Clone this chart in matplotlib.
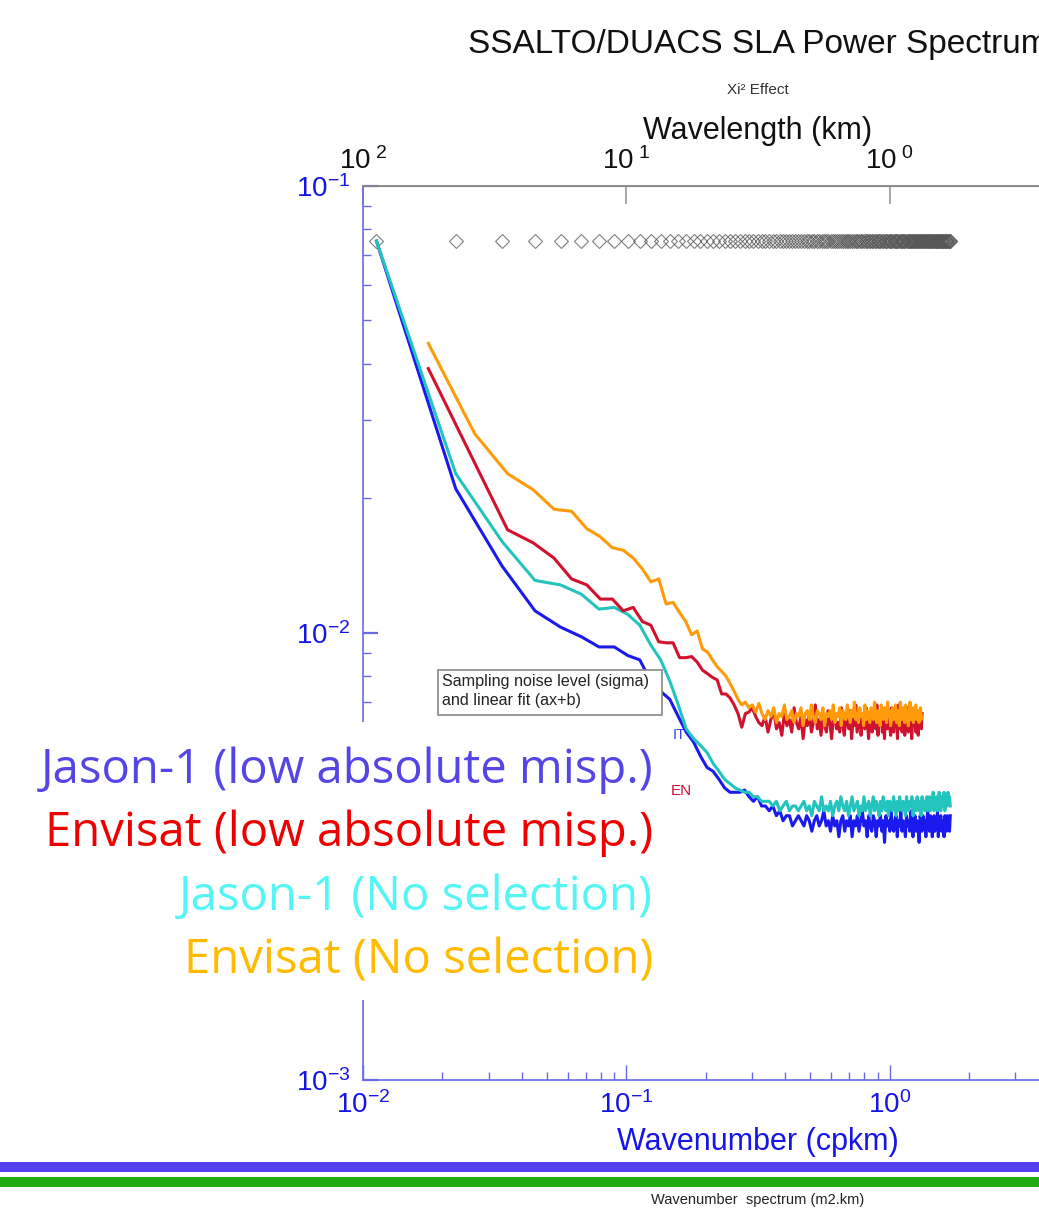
import numpy as np
import matplotlib
matplotlib.use("Agg")
import matplotlib.pyplot as plt
from matplotlib.patches import Rectangle

# wavenumber step of each mission (cpkm) and index of first plotted harmonic
dk_jason = 0.01125
dk_envisat = 0.00885
k0_jason = 1
k0_envisat = 2

# power spectra, in 1e-3 m2.km
jason_low = [
    75.2, 21.0, 14.1, 11.2, 10.3, 9.8, 9.3, 9.3, 8.9, 8.7,
    7.8, 7.4, 7.1, 6.5, 6.0, 5.7, 5.3, 5.0, 4.9, 4.7,
    4.5, 4.4, 4.4, 4.4, 4.45, 4.3, 4.2, 4.3, 4.1, 4.1,
    4.0, 4.1, 3.9, 4.0, 3.8, 3.9, 3.9, 3.7, 3.8, 3.9,
    3.8, 3.7, 3.9, 3.8, 3.6, 3.8, 3.9, 3.7, 3.8, 4.0,
    3.7, 3.8, 3.6, 3.9, 3.7, 3.8, 3.5, 3.8, 3.9, 3.6,
    3.8, 3.7, 3.9, 3.5, 3.8, 3.7, 3.9, 3.6, 3.8, 4.0,
    3.7, 3.8, 3.5, 3.9, 3.7, 3.6, 3.9, 3.8, 3.5, 3.8,
    3.7, 3.9, 3.6, 3.8, 3.4, 3.9, 3.7, 3.8, 3.6, 4.0,
    3.7, 3.6, 3.8, 3.9, 3.5, 3.8, 3.7, 4.0, 3.6, 3.8,
    3.7, 3.5, 3.9, 3.7, 3.8, 3.6, 4.0, 3.7, 3.5, 3.8,
    3.9, 3.6, 3.8, 3.7, 3.4, 3.9, 3.8, 3.6, 3.9, 3.7,
    3.8, 3.5, 3.8, 4.0, 3.7, 3.6, 3.9, 3.8, 3.5, 3.7,
    3.9, 3.6, 3.8, 3.7, 4.0, 3.5, 3.8, 3.7, 3.9, 3.6,
    3.8, 3.7, 3.5, 3.9, 3.8, 3.6, 3.9, 3.7, 3.8, 3.6, 3.9,
]
jason_all = [
    75.2, 22.7, 16.0, 13.1, 12.8, 12.2, 11.3, 11.4, 11.0, 10.4,
    9.4, 8.7, 7.8, 6.9, 6.1, 5.8, 5.6, 5.4, 5.1, 4.9,
    4.7, 4.6, 4.5, 4.45, 4.4, 4.4, 4.3, 4.3, 4.2, 4.2,
    4.2, 4.1, 4.2, 4.0, 4.1, 4.2, 4.0, 4.1, 4.1, 4.0,
    4.1, 4.2, 4.0, 4.1, 3.9, 4.2, 4.1, 4.0, 4.3, 4.0,
    4.1, 4.0, 4.2, 3.9, 4.1, 4.2, 4.0, 4.3, 4.1, 4.0,
    4.2, 3.9, 4.1, 4.3, 4.0, 4.1, 4.2, 3.9, 4.1, 4.0,
    4.3, 4.0, 4.1, 4.2, 3.9, 4.1, 4.3, 4.0, 4.2, 4.1,
    3.9, 4.2, 4.0, 4.3, 4.1, 4.0, 4.2, 3.9, 4.2, 4.1,
    4.0, 4.3, 4.1, 3.9, 4.2, 4.0, 4.3, 4.1, 4.0, 4.2,
    4.1, 3.9, 4.3, 4.1, 4.0, 4.2, 4.1, 4.3, 3.9, 4.1,
    4.2, 4.0, 4.3, 4.1, 4.0, 4.2, 3.9, 4.3, 4.1, 4.2,
    4.0, 4.2, 4.3, 4.0, 4.1, 4.3, 4.0, 4.2, 4.1, 4.4,
    4.0, 4.2, 4.1, 4.3, 4.0, 4.2, 4.4, 4.1, 4.0, 4.3,
    4.1, 4.2, 4.4, 4.0, 4.2, 4.3, 4.1, 4.4, 4.2, 4.3, 4.1,
]
envisat_low = [
    39.0, 24.0, 17.0, 15.9, 14.7, 13.2, 12.8, 11.9, 11.9, 11.2,
    11.4, 10.6, 10.4, 9.55, 9.5, 9.5, 8.8, 8.8, 8.85, 8.6,
    8.25, 8.1, 7.95, 7.85, 7.3, 7.3, 7.15, 6.9, 6.6, 6.15,
    6.6, 6.65, 6.8, 6.5, 6.3,
    6.2, 6.5, 6.0, 6.4, 6.7, 6.1, 6.3, 5.9, 6.6, 6.2,
    6.4, 6.0, 6.8, 6.3, 6.1, 6.5, 5.8, 6.4, 6.2, 6.6,
    6.0, 6.3, 6.9, 6.1, 6.4, 5.9, 6.5, 6.2, 6.0, 6.7,
    6.3, 5.8, 6.4, 6.6, 6.1, 6.3, 6.0, 6.8, 6.2, 5.9,
    6.5, 6.3, 6.1, 6.7, 5.8, 6.4, 6.2, 6.9, 6.0, 6.3,
    6.6, 5.9, 6.4, 6.2, 6.1, 6.8, 6.3, 5.8, 6.5, 6.2,
    6.0, 6.7, 6.3, 6.1, 6.9, 5.9, 6.4, 6.2, 6.6, 6.0,
    6.3, 5.8, 6.7, 6.4, 6.1, 6.5, 6.2, 5.9, 6.8, 6.3,
    6.0, 6.6, 6.2, 6.4, 5.8, 6.9, 6.3, 6.1, 6.5, 6.0,
    6.7, 6.2, 5.9, 6.4, 6.3, 6.8, 6.0, 6.5, 6.1, 6.6,
    5.8, 6.3, 6.7, 6.2, 6.4, 6.0, 6.6, 6.3, 5.9, 6.5,
    6.2, 6.4, 6.1, 6.6,
]
envisat_all = [
    44.4, 27.9, 22.7, 20.9, 18.9, 18.7, 17.1, 16.4, 15.5, 15.3,
    14.7, 13.9, 13.0, 13.2, 11.6, 11.7, 11.1, 10.6, 9.9, 10.1,
    9.2, 9.05, 8.7, 8.4, 8.2, 8.0, 7.7, 7.4, 7.1, 6.9,
    7.0, 6.8, 6.9, 6.65, 6.95,
    6.6, 6.4, 6.7, 6.5, 6.8, 6.3, 6.6, 6.5, 6.9, 6.4,
    6.5, 6.7, 6.3, 6.6, 6.5, 6.8, 6.2, 6.6, 6.7, 6.4,
    6.9, 6.5, 6.3, 6.7, 6.6, 6.4, 6.8, 6.2, 6.6, 6.5,
    6.7, 6.4, 6.9, 6.3, 6.6, 6.5, 6.8, 6.2, 6.7, 6.5,
    6.4, 6.9, 6.6, 6.3, 6.7, 6.5, 7.0, 6.4, 6.6, 6.3,
    6.8, 6.5, 6.6, 6.2, 6.9, 6.4, 6.7, 6.5, 6.3, 6.8,
    6.6, 6.4, 7.0, 6.5, 6.3, 6.7, 6.6, 6.2, 6.9, 6.5,
    6.4, 6.8, 6.6, 6.3, 7.0, 6.5, 6.7, 6.2, 6.6, 6.8,
    6.4, 6.5, 6.9, 6.3, 6.7, 6.6, 6.2, 7.0, 6.5, 6.4,
    6.8, 6.6, 6.3, 6.9, 6.5, 6.7, 6.2, 6.6, 7.0, 6.4,
    6.5, 6.8, 6.3, 6.7, 6.6, 6.9, 6.4, 6.5, 6.7, 6.3,
    6.6, 6.8, 6.4, 6.5,
]

# level of the Xi2 diamonds (m2.km)
xi2_level = 0.0752

legend_labels = [
    "Jason-1 (low absolute misp.)",
    "Envisat (low absolute misp.)",
    "Jason-1 (No selection)",
    "Envisat (No selection)",
]
legend_colors = ["#5545e5", "#ee0000", "#55f5f5", "#ffbb00"]

W, H = 1039, 1212


def fx(px):
    return px / W


def fy(py):
    return 1 - py / H


def inv(x):
    x = np.asarray(x, dtype=float)
    with np.errstate(divide="ignore"):
        return 1.0 / x


plt.rcParams["font.family"] = "Liberation Sans"
plt.rcParams["mathtext.fontset"] = "custom"
plt.rcParams["mathtext.rm"] = "Liberation Sans"
plt.rcParams["mathtext.it"] = "Liberation Sans:italic"
plt.rcParams["mathtext.bf"] = "Liberation Sans:bold"

fig = plt.figure(figsize=(W / 100, H / 100), dpi=100)
# the right part of the plot runs past the picture edge
ax = fig.add_axes([fx(363), fy(1080), fx(1153) - fx(363), fy(185.7) - fy(1080)])

kj = (np.arange(len(jason_low)) + k0_jason) * dk_jason
ke = (np.arange(len(envisat_low)) + k0_envisat) * dk_envisat

ax.plot(kj, np.full(len(kj), xi2_level), ls="none", marker="D", ms=7,
        mfc="none", mec="#555555", mew=0.8, alpha=0.75)
ax.plot(kj, np.array(jason_low) * 1e-3, color="#1a1aee", lw=2.2)
ax.plot(kj, np.array(jason_all) * 1e-3, color="#22c4bd", lw=2.2)
ax.plot(ke, np.array(envisat_low) * 1e-3, color="#d0122e", lw=2.2)
ax.plot(ke, np.array(envisat_all) * 1e-3, color="#ff9a0a", lw=2.2)

ax.set_xscale("log")
ax.set_yscale("log")
ax.set_xlim(1e-2, 1e1)
ax.set_ylim(1e-3, 1e-1)
# the 10^1 tick sits on the hidden right edge
ax.set_xticks([1e-2, 1e-1, 1e0])

for side in ["left", "bottom"]:
    ax.spines[side].set_color("#6a6ae0")
    ax.spines[side].set_linewidth(1.2)
ax.spines["top"].set_color("#888888")
ax.spines["top"].set_linewidth(1.3)

ax.tick_params(axis="both", which="both", direction="in", top=False, right=False,
               color="#6a6ae0", labelcolor="#1515e8", labelsize=20)
ax.tick_params(axis="y", which="major", length=11, width=1.6, pad=9)
ax.tick_params(axis="y", which="minor", length=5.5, width=1.0)
ax.tick_params(axis="x", which="major", length=11, width=1.0, pad=8)
ax.tick_params(axis="x", which="minor", length=6, width=1.0)

ax.set_xlabel("Wavenumber (cpkm)", fontsize=22, color="#1515e8", labelpad=6)

secax = ax.secondary_xaxis("top", functions=(inv, inv))
secax.set_xticks([100, 10, 1])
secax.set_xticklabels([r"$10^{\ 2}$", r"$10^{\ 1}$", r"$10^{\ 0}$"])
secax.minorticks_off()
secax.tick_params(axis="x", which="major", direction="in", length=13, width=1.2,
                  color="#999999", labelcolor="#111111", labelsize=20, pad=8)
secax.tick_params(axis="x", which="minor", length=0)
secax.spines["top"].set_color("#888888")

ax.text(0.150, 0.00590, "IT", color="#3a3ae8", fontsize=10.5, va="center",
        ha="left", zorder=1)
ax.text(0.148, 0.00433, "EN", color="#d0122e", fontsize=11)

fig.text(fx(758), fy(45), "SSALTO/DUACS SLA Power Spectrum", fontsize=24,
         ha="center", va="center", color="#111111")
fig.text(fx(758), fy(90), "Xi\u00b2 Effect", fontsize=11, ha="center",
         va="center", color="#333333")
fig.text(fx(758), fy(131), "Wavelength (km)", fontsize=22, ha="center",
         va="center", color="#111111")

# noise level note
fig.patches.append(Rectangle((fx(438), fy(715)), fx(662) - fx(438), fy(670) - fy(715),
                             transform=fig.transFigure, facecolor="white",
                             edgecolor="#888888", lw=1.2, zorder=3))
fig.text(fx(442), fy(681), "Sampling noise level (sigma)", fontsize=11.6,
         va="center", color="#222222", zorder=4)
fig.text(fx(442), fy(701), "and linear fit (ax+b)", fontsize=11.6,
         va="center", color="#222222", zorder=4)

# white panel holding the big legend
fig.patches.append(Rectangle((0, fy(1000)), fx(665), fy(722) - fy(1000),
                             transform=fig.transFigure, facecolor="white",
                             edgecolor="none", zorder=5))
for i, (lab, col) in enumerate(zip(legend_labels, legend_colors)):
    fig.text(fx(653), fy(770 + 63.7 * i), lab, fontsize=34, family="Open Sans",
             ha="right", va="center", color=col, zorder=6)

# footer bands
fig.patches.append(Rectangle((0, fy(1172)), 1, fy(1161.5) - fy(1172),
                             transform=fig.transFigure, facecolor="#5540ee",
                             edgecolor="none", zorder=-1))
fig.patches.append(Rectangle((0, fy(1187)), 1, fy(1177) - fy(1187),
                             transform=fig.transFigure, facecolor="#22aa11",
                             edgecolor="none", zorder=-1))
fig.text(fx(758), fy(1200), "Wavenumber  spectrum (m2.km)", fontsize=10.5,
         ha="center", va="center", color="#222222")

fig.savefig("out.png", dpi=100)
